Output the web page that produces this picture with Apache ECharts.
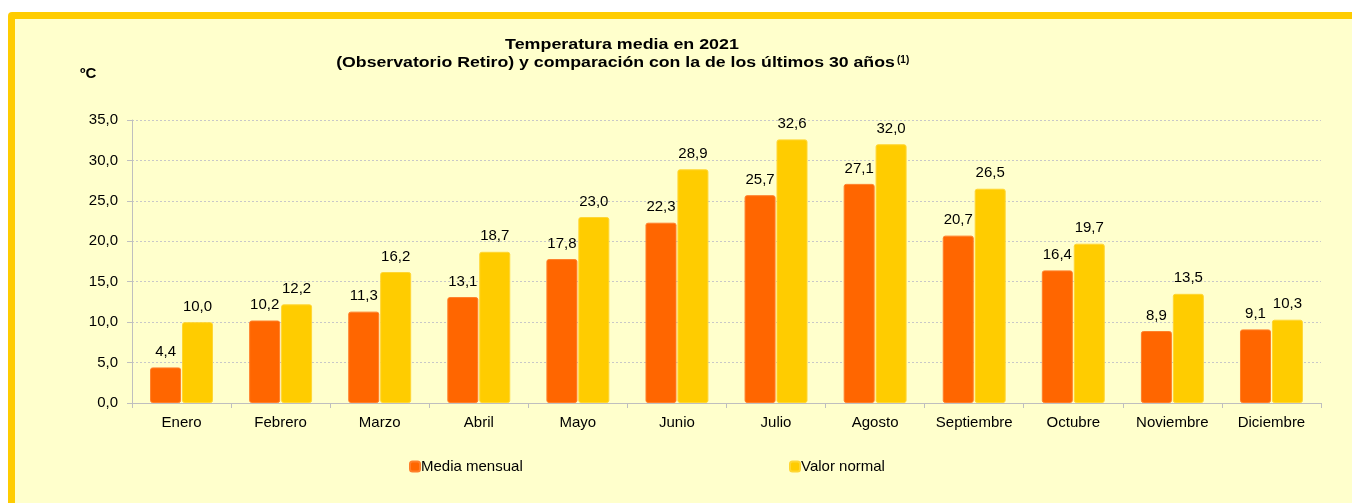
<!DOCTYPE html>
<html><head><meta charset="utf-8">
<script src="https://cdn.jsdelivr.net/npm/echarts@6/dist/echarts.min.js"></script>
<style>html,body{margin:0;padding:0;background:#fff}#c{width:1352px;height:503px}</style>
</head><body><div id="c"></div>
<script>
const categories = ['Enero','Febrero','Marzo','Abril','Mayo','Junio','Julio','Agosto','Septiembre','Octubre','Noviembre','Diciembre'];
const mediaMensual = [4.4,10.2,11.3,13.1,17.8,22.3,25.7,27.1,20.7,16.4,8.9,9.1];
const valorNormal = [10.0,12.2,16.2,18.7,23.0,28.9,32.6,32.0,26.5,19.7,13.5,10.3];
const seriesNames = ['Media mensual','Valor normal'];
const titleLines = ['Temperatura media en 2021', '(Observatorio Retiro) y comparación con la de los últimos 30 años', '(1)'];
const unitLabel = 'ºC';

const fmt = v => v.toFixed(1).replace('.', ',');
const font = 'Liberation Sans, Arial, sans-serif';
const chart = echarts.init(document.getElementById('c'), null, {renderer: 'canvas'});
chart.setOption({
  backgroundColor: '#ffffff',
  animation: false,
  graphic: [
    {type:'rect', shape:{x:8,y:12,width:1360,height:500,r:[4,0,0,0]}, style:{fill:'#FFCC00'}, z:-10, silent:true},
    {type:'rect', shape:{x:15,y:19,width:1350,height:490}, style:{fill:'#FFFFCC'}, z:-9, silent:true},
    {type:'text', x:80, y:74, style:{text:unitLabel, font:'bold 15px ' + font, fill:'#000', verticalAlign:'middle'}},
    {type:'text', x:622, y:45, scaleX:1.19, style:{text:titleLines[0], font:'bold 15px ' + font, fill:'#000', align:'center', verticalAlign:'middle'}},
    {type:'text', x:615.5, y:63, scaleX:1.18, style:{text:titleLines[1], font:'bold 15px ' + font, fill:'#000', align:'center', verticalAlign:'middle'}},
    {type:'text', x:897, y:60, style:{text:titleLines[2], font:'bold 10px ' + font, fill:'#000', align:'left', verticalAlign:'middle'}}
  ],
  legend: [
    {data:[seriesNames[0]], left: 404, top: 454, itemWidth: 10, itemHeight: 10, icon: 'roundRect',
     textStyle:{fontFamily: font, fontSize: 15, color:'#000', padding:[0,0,0,-4]}},
    {data:[seriesNames[1]], left: 784, top: 454, itemWidth: 10, itemHeight: 10, icon: 'roundRect',
     textStyle:{fontFamily: font, fontSize: 15, color:'#000', padding:[0,0,0,-4]}}
  ],
  grid: {left: 132, right: 31, top: 120, bottom: 100, containLabel: false},
  xAxis: {
    type: 'category', data: categories,
    axisLine: {lineStyle: {color: '#BFBFBF', width: 1}},
    axisTick: {show: true, interval: 0, length: 5, lineStyle: {color: '#BFBFBF'}},
    axisLabel: {interval: 0, hideOverlap: false, fontFamily: font, fontSize: 15, color: '#000', margin: 12}
  },
  yAxis: {
    type: 'value', min: 0, max: 35, interval: 5,
    axisLine: {show: true, lineStyle: {color: '#BFBFBF'}},
    axisTick: {show: true, length: 5, lineStyle: {color: '#BFBFBF'}},
    axisLabel: {fontFamily: font, fontSize: 15, color: '#000', margin: 14, formatter: v => fmt(v)},
    splitLine: {lineStyle: {color: '#C8C8C8', type: [2,2], width: 1}}
  },
  series: [
    {name: seriesNames[0], type: 'bar', data: mediaMensual, barWidth: 31, barGap: '3%',
     itemStyle: {color: '#FF6600', borderColor: '#FF7F2A', borderWidth: 1, borderRadius: 2},
     label: {show: true, position: 'top', distance: 8, fontFamily: font, fontSize: 15, color: '#000', formatter: p => fmt(p.value)}},
    {name: seriesNames[1], type: 'bar', data: valorNormal, barWidth: 31,
     itemStyle: {color: '#FFCC00', borderColor: '#FFD633', borderWidth: 1, borderRadius: 2},
     label: {show: true, position: 'top', distance: 8, fontFamily: font, fontSize: 15, color: '#000', formatter: p => fmt(p.value)}}
  ]
});
</script></body></html>
